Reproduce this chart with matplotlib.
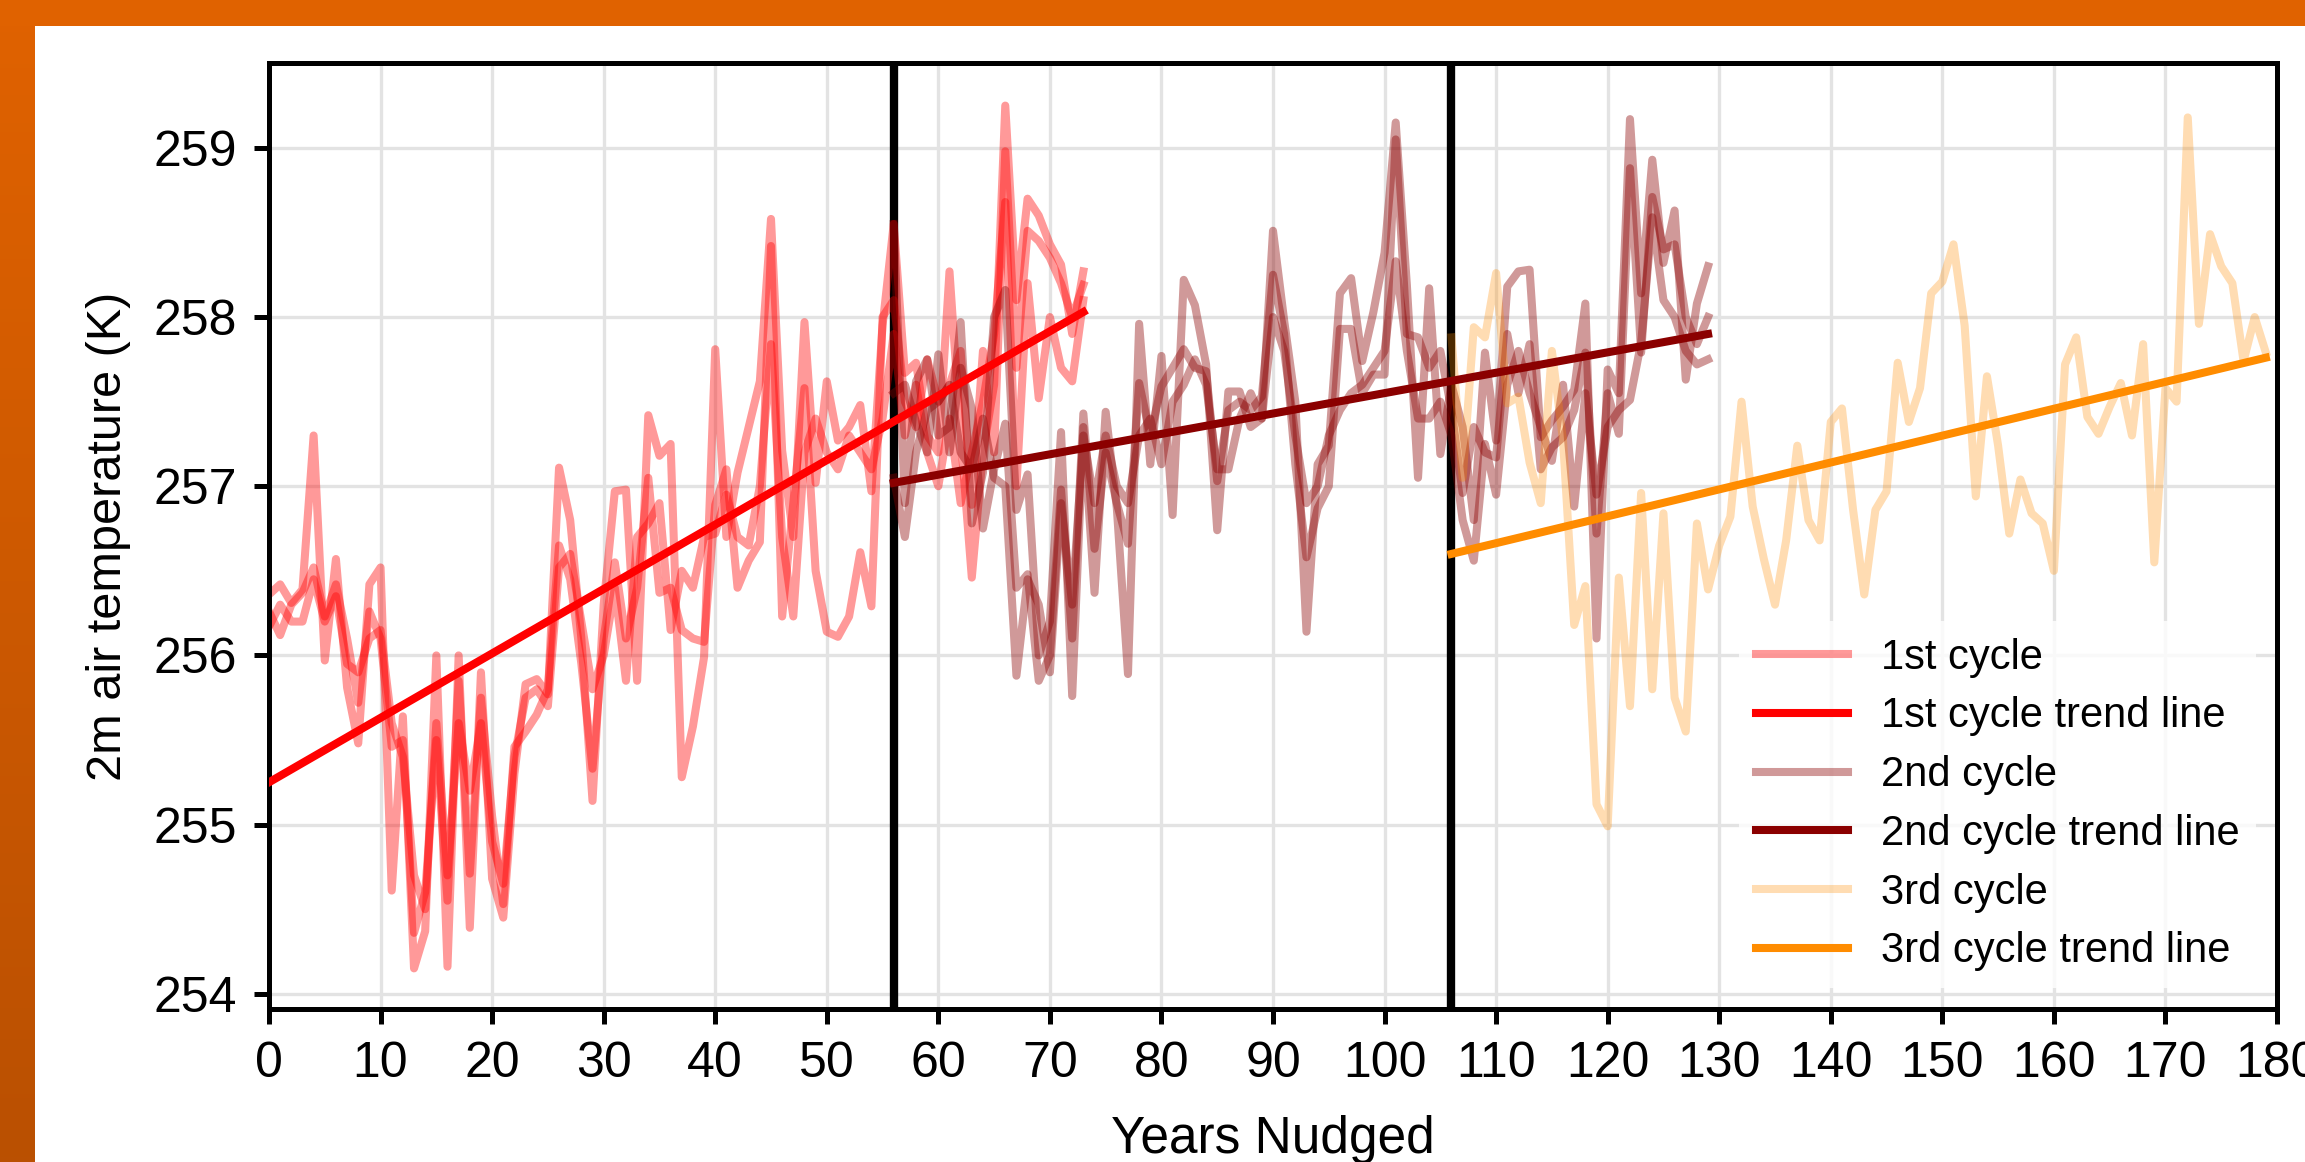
import numpy as np
import matplotlib
matplotlib.use("Agg")
import matplotlib.pyplot as plt
from matplotlib.patches import Rectangle

plt.rcParams['font.family'] = ['Liberation Sans', 'DejaVu Sans']

# ---------------- data ----------------
years_c1 = list(range(0, 74))
c1_a = [256.36, 256.42, 256.31, 256.39, 257.30, 255.97, 256.57, 255.81, 255.48, 256.42,
        256.52, 254.61, 255.64, 254.15, 254.37, 256.00, 254.16, 256.00, 254.39, 255.90,
        254.68, 254.45, 255.30, 255.83, 255.86, 255.77, 257.11, 256.80, 256.10, 255.14,
        256.30, 256.97, 256.98, 255.85, 257.42, 257.18, 257.25, 255.28, 255.58, 255.99,
        257.81, 256.70, 257.08, 257.35, 257.62, 258.58, 257.21, 256.70, 257.97, 257.02,
        257.62, 257.27, 257.35, 257.48, 256.97, 257.95, 258.55, 257.67, 257.73, 257.30,
        257.20, 258.27, 257.30, 256.46, 257.20, 257.60, 259.25, 258.10, 258.70, 258.60,
        258.43, 258.31, 257.90, 258.27]
c1_b = [256.26, 256.12, 256.30, 256.37, 256.52, 256.23, 256.42, 256.10, 255.72, 256.26,
        256.10, 255.46, 255.50, 254.36, 254.60, 255.50, 254.55, 255.85, 254.71, 255.75,
        255.05, 254.53, 255.46, 255.55, 255.65, 255.80, 256.65, 256.45, 255.95, 255.33,
        256.10, 256.55, 256.10, 256.40, 257.05, 256.37, 256.40, 256.15, 256.10, 256.08,
        256.89, 257.10, 256.40, 256.56, 256.67, 258.42, 256.23, 256.90, 257.58, 256.50,
        256.14, 256.11, 256.23, 256.61, 256.29, 258.00, 258.10, 257.50, 257.35, 257.75,
        257.50, 257.60, 257.80, 256.89, 257.80, 257.20, 258.98, 257.70, 258.51, 258.45,
        258.35, 258.20, 258.00, 258.19]
c1_c = [256.17, 256.30, 256.20, 256.20, 256.45, 256.20, 256.35, 255.95, 255.90, 256.10,
        256.15, 255.60, 255.40, 254.70, 254.50, 255.60, 254.70, 255.60, 255.20, 255.60,
        254.90, 254.65, 255.40, 255.75, 255.80, 255.70, 256.52, 256.60, 256.20, 255.80,
        256.00, 256.40, 255.85, 256.70, 256.78, 256.90, 256.15, 256.50, 256.40, 256.70,
        256.72, 256.95, 256.70, 256.65, 257.00, 257.84, 256.70, 256.23, 257.20, 257.40,
        257.20, 257.10, 257.30, 257.20, 257.10, 257.40, 257.90, 257.30, 257.60, 257.20,
        257.00, 257.40, 256.90, 257.20, 257.50, 257.90, 258.68, 257.00, 258.20, 257.52,
        258.00, 257.70, 257.62, 258.10]

years_c2 = list(range(56, 130))
c2_d = [258.55, 256.90, 257.62, 257.75, 257.30, 257.35, 257.97, 256.78, 257.08, 258.00,
        258.16, 256.86, 257.07, 256.00, 256.20, 257.32, 255.76, 257.35, 256.37, 257.44,
        256.87, 255.89, 257.96, 257.13, 257.77, 256.83, 258.22, 258.07, 257.72, 256.74,
        257.56, 257.56, 257.35, 257.40, 258.51, 257.98, 257.50, 256.14, 257.13, 257.24,
        258.14, 258.23, 257.74, 258.03, 258.38, 259.15, 258.19, 257.05, 258.17, 257.19,
        257.60, 257.35, 256.80, 257.79, 257.27, 258.18, 258.27, 258.28, 257.29, 257.39,
        257.47, 257.57, 258.08, 256.10, 257.69, 257.55, 259.17, 258.14, 258.93, 258.32,
        258.63, 257.63, 258.08, 258.30]
c2_e = [257.55, 257.60, 257.38, 257.20, 257.78, 257.20, 257.70, 257.46, 256.75, 257.10,
        257.37, 256.40, 256.48, 255.85, 256.00, 256.98, 256.10, 257.43, 256.63, 257.20,
        256.90, 256.66, 257.61, 257.30, 257.59, 257.70, 257.81, 257.70, 257.68, 257.03,
        257.45, 257.50, 257.45, 257.53, 258.25, 257.90, 257.13, 256.58, 256.87, 257.00,
        257.93, 257.93, 257.55, 257.66, 257.66, 259.05, 257.90, 257.88, 257.70, 257.80,
        257.45, 256.96, 257.35, 257.20, 257.17, 257.90, 257.55, 257.84, 257.10, 257.23,
        257.29, 257.45, 257.79, 256.72, 257.55, 257.31, 258.88, 257.79, 258.71, 258.40,
        258.43, 258.00, 257.84, 258.00]
c2_f = [257.05, 256.70, 257.20, 257.45, 257.50, 257.60, 257.20, 257.10, 257.40, 257.05,
        257.00, 255.88, 256.45, 256.30, 255.90, 256.90, 256.30, 257.30, 256.90, 257.30,
        257.00, 256.90, 257.30, 257.40, 257.13, 257.50, 257.60, 257.75, 257.60, 257.10,
        257.10, 257.40, 257.55, 257.40, 258.00, 257.80, 257.30, 256.90, 257.00, 257.30,
        257.45, 257.55, 257.60, 257.70, 257.80, 258.33, 257.80, 257.40, 257.40, 257.50,
        257.30, 256.80, 256.56, 257.25, 256.95, 257.60, 257.80, 257.55, 257.35, 257.15,
        257.60, 256.88, 257.55, 256.95, 257.35, 257.45, 257.51, 257.85, 258.59, 258.10,
        258.00, 257.80, 257.72, 257.75]

years_c3 = list(range(106, 180))
c3_g = [257.88, 257.05, 257.94, 257.88, 258.26, 257.49, 257.53, 257.14, 256.90, 257.80,
        257.27, 256.18, 256.41, 255.12, 254.99, 256.46, 255.70, 256.96, 255.80, 256.84,
        255.75, 255.55, 256.78, 256.39, 256.65, 256.82, 257.50, 256.88, 256.57, 256.30,
        256.68, 257.24, 256.80, 256.68, 257.38, 257.46, 256.86, 256.36, 256.86, 256.97,
        257.73, 257.38, 257.58, 258.14, 258.21, 258.43, 257.95, 256.94, 257.65, 257.24,
        256.72, 257.04, 256.84, 256.78, 256.50, 257.72, 257.88, 257.41, 257.31, 257.47,
        257.61, 257.30, 257.84, 256.55, 257.58, 257.50, 259.18, 257.96, 258.49, 258.30,
        258.20, 257.74, 258.00, 257.79]

trend1_x = [0, 73]
trend1_y = [255.25, 258.03]
trend2_x = [56, 129]
trend2_y = [257.02, 257.90]
trend3_x = [106, 179]
trend3_y = [256.60, 257.76]

cycle_breaks = [56, 106]
xticks = list(range(0, 181, 10))
yticks = [254, 255, 256, 257, 258, 259]

# ---------------- figure ----------------
W, H = 2305, 1162
fig = plt.figure(figsize=(W / 200, H / 200), dpi=200)
fig.patch.set_facecolor('white')

bg = fig.add_axes([0, 0, 1, 1], zorder=-5)
bg.axis('off')
top_h = 26 / H
left_w = 35 / W
c_top = np.array([224, 98, 0]) / 255
c_bot = np.array([186, 80, 2]) / 255
t = np.linspace(0, 1, 256)[:, None]
grad = (c_top[None, :] * (1 - t) + c_bot[None, :] * t)[:, None, :]
bg.imshow(grad, extent=[0, left_w, 0, 1], aspect='auto', origin='upper')
bg.add_patch(Rectangle((0, 1 - top_h), 1, top_h, color='#E06200', lw=0))
bg.set_xlim(0, 1)
bg.set_ylim(0, 1)

ax = fig.add_axes([269 / W, 1 - 1009 / H, (2277 - 269) / W, (1009 - 63.3) / H])

for xb in cycle_breaks:
    ax.axvline(xb, color='black', lw=3.0, zorder=1.5)

lw = 2.9
tlw = 2.9
ax.plot(years_c1, c1_a, color='red', alpha=0.4, lw=lw, label='1st cycle', zorder=2)
ax.plot(years_c1, c1_b, color='red', alpha=0.4, lw=lw, zorder=2)
ax.plot(years_c1, c1_c, color='red', alpha=0.4, lw=lw, zorder=2)
ax.plot(trend1_x, trend1_y, color='red', lw=tlw, label='1st cycle trend line', zorder=3)

ax.plot(years_c2, c2_d, color='darkred', alpha=0.4, lw=lw, label='2nd cycle', zorder=2)
ax.plot(years_c2, c2_e, color='darkred', alpha=0.4, lw=lw, zorder=2)
ax.plot(years_c2, c2_f, color='darkred', alpha=0.4, lw=lw, zorder=2)
ax.plot(trend2_x, trend2_y, color='darkred', lw=tlw, label='2nd cycle trend line', zorder=3)

ax.plot(years_c3, c3_g, color='darkorange', alpha=0.3, lw=lw, label='3rd cycle', zorder=2)
ax.plot(trend3_x, trend3_y, color='darkorange', lw=tlw, label='3rd cycle trend line', zorder=3)

ax.set_xlim(0, 180)
ax.set_ylim(253.91, 259.5)
ax.set_xticks(xticks)
ax.set_yticks(yticks)
ax.grid(True, color='#e3e3e3', lw=1.2, zorder=0)
ax.set_axisbelow(True)

for s in ax.spines.values():
    s.set_linewidth(1.8)
    s.set_color('black')
ax.tick_params(axis='both', direction='out', length=5.5, width=1.8,
               labelsize=18, pad=6, colors='black')

ax.set_xlabel('Years Nudged', fontsize=18.5, labelpad=10)
ax.set_ylabel('2m air temperature (K)', fontsize=17.5, labelpad=8)

leg = ax.legend(loc='lower right', fontsize=15, frameon=True, framealpha=0.8,
                edgecolor='none', fancybox=True, handlelength=2.2,
                handletextpad=0.8, labelspacing=0.45)

fig.savefig('out.png', dpi=200)
